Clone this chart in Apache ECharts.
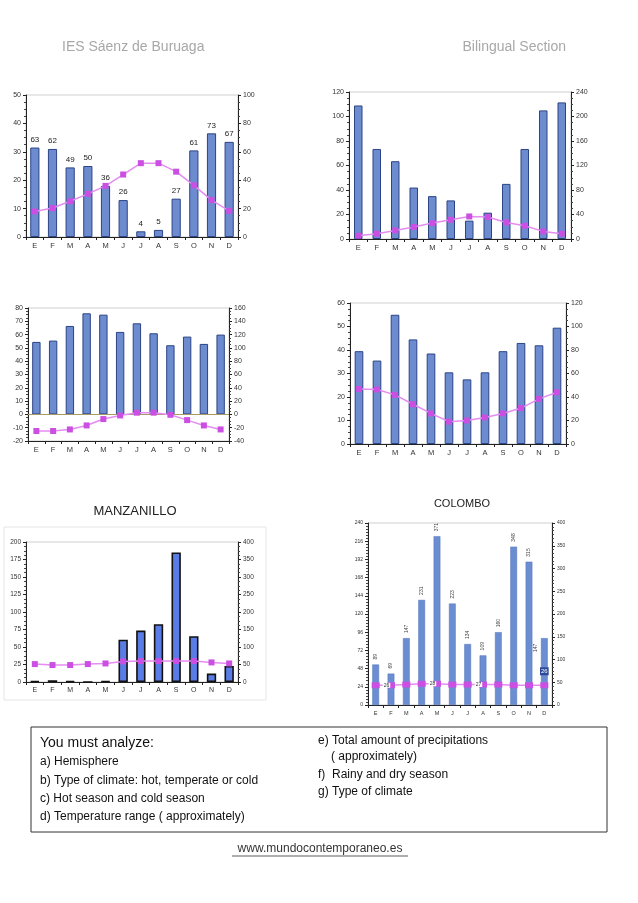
<!DOCTYPE html>
<html><head><meta charset="utf-8">
<script src="https://cdn.jsdelivr.net/npm/echarts@6/dist/echarts.min.js"></script>
<style>html,body{margin:0;padding:0;background:#fff}#c{width:638px;height:903px}</style>
</head><body><div id="c"></div>
<script>
const months = ['E','F','M','A','M','J','J','A','S','O','N','D'];
// temperatures (left axis) and precipitations (right axis)
const c1Temp = [9, 10.2, 12.6, 15.2, 18, 22, 26, 26, 23, 18.2, 13, 9.2];
const c1Prec = [63, 62, 49, 50, 36, 26, 4, 5, 27, 61, 73, 67];
const c2Temp = [2.7, 4.3, 7, 9.8, 13, 15.7, 18.4, 17.9, 13.5, 10.8, 6.2, 4.3];
const c2Prec = [218, 147, 127, 84, 70, 63, 30, 43, 90, 147, 210, 223];
const c3Temp = [-12.5, -12.5, -11.3, -8.3, -3.5, -0.8, 1.3, 1.3, -0.3, -4.3, -8.3, -11.3];
const c3Prec = [109, 111, 133, 152, 150, 124, 137, 122, 104, 117, 106, 120];
const c4Temp = [23.4, 23.2, 20.9, 16.9, 13, 9.5, 10, 11.3, 13, 15.3, 19.2, 22];
const c4Prec = [79, 71, 110, 89, 77, 61, 55, 61, 79, 86, 84, 99];
const c5Temp = [25.6, 24.2, 24.2, 25.6, 26.5, 29.4, 29.9, 29.9, 29.9, 29.9, 28, 26.5];
const c5Prec = [3, 5, 3, 0, 2, 121, 147, 165, 370, 131, 24, 46];
const c6Temp = [26, 26, 27, 28, 28, 27, 27, 27, 27, 26, 26, 26];
const c6Prec = [89, 69, 147, 231, 371, 223, 134, 109, 160, 348, 315, 147];
const c6TempLabelIdx = [0, 3, 6];

const FONT = 'Liberation Sans, Arial, sans-serif';
const charts = [
  {box:[26,95,212,142], temp:c1Temp, prec:c1Prec, l:[0,50,10], r:[0,100,20], bw:'52%', fill:'#6d8cd0', border:'#2c4485', bwid:1, barLabel:true, fs:7},
  {box:[349,92,222,147], temp:c2Temp, prec:c2Prec, l:[0,120,20], r:[0,240,40], bw:'46%', fill:'#6d8cd0', border:'#2c4485', bwid:1, fs:7},
  {box:[28,308,201,133], temp:c3Temp, prec:c3Prec, l:[-20,80,10], r:[-40,160,20], bw:'50%', fill:'#6d8cd0', border:'#2c4485', bwid:1, zero:true, fs:7},
  {box:[350,303,216,141], temp:c4Temp, prec:c4Prec, l:[0,60,10], r:[0,120,20], bw:'48%', fill:'#6d8cd0', border:'#2c4485', bwid:1, fs:7},
  {box:[26,542,212,140], temp:c5Temp, prec:c5Prec, l:[0,200,25], r:[0,400,50], bw:'53%', fill:'#5a7ce6', border:'#111', bwid:1.6, fs:6.5},
  {box:[368,523,184,182], temp:c6Temp, prec:c6Prec, l:[0,240,24], r:[0,400,50], bw:'44%', fill:'#6b8ed2', border:'#5573b8', bwid:0.5, colombo:true, fs:5}
];

const grid=[], xAxis=[], yAxis=[], series=[];
charts.forEach((c,i)=>{
  grid.push({left:c.box[0], top:c.box[1], width:c.box[2], height:c.box[3], show:true, borderColor:'#cfcfcf', borderWidth:1});
  xAxis.push({type:'category', gridIndex:i, data:months,
    axisLine:{onZero:false, lineStyle:{color:'#222', width:1}},
    axisTick:{show:true, length:3, lineStyle:{color:'#222'}},
    axisLabel:{fontSize:c.fs+0.5, color:'#333', margin:5, fontFamily:FONT}});
  const ax = (range,pos)=>({type:'value', gridIndex:i, position:pos, min:range[0], max:range[1], interval:range[2],
    axisLine:{show:true, lineStyle:{color:'#222', width:1}},
    axisTick:{show:true, length:3, lineStyle:{color:'#222'}},
    minorTick:{show:true, splitNumber: c.colombo?6:4, length:2, lineStyle:{color:'#444'}},
    splitLine:{show:false},
    axisLabel:{fontSize:c.fs, color:'#333', margin:5, fontFamily:FONT}});
  yAxis.push(ax(c.l,'left'));
  yAxis.push(ax(c.r,'right'));
  const bar = {type:'bar', xAxisIndex:i, yAxisIndex:2*i+1, data:c.prec, barWidth:c.bw,
    itemStyle:{color:c.fill, borderColor:c.border, borderWidth:c.bwid}, z:2};
  if(c.barLabel){ bar.label={show:true, position:'top', fontSize:8, color:'#222', distance:4, fontFamily:FONT}; }
  if(c.colombo){
    bar.label={show:true, position:'top', rotate:90, align:'left', verticalAlign:'middle', fontSize:5, color:'#444', distance:5, fontFamily:FONT};
    bar.data = c.prec.map((v,k)=> k===11 ? {value:v, label:{offset:[-19,-9]}} : v);
  }
  if(c.zero){ bar.markLine={silent:true, symbol:'none', label:{show:false}, data:[{yAxis:0}], lineStyle:{color:'#a8996a', type:'solid', width:1}}; }
  series.push(bar);
  const line = {type:'line', xAxisIndex:i, yAxisIndex:2*i, data:c.temp, symbol:'rect', symbolSize:c.colombo?[8,6]:6,
    lineStyle:{color:'#e48cf2', width:1.5}, itemStyle:{color:'#cb4fe2'}, z:5};
  if(c.colombo){
    line.data = c.temp.map((v,k)=>{
      if(c6TempLabelIdx.includes(k)) return {value:v, label:{show:true, position:'right', fontSize:5, color:'#333', distance:3, backgroundColor:'#fff', padding:[0,1]}};
      if(k===11) return {value:v, label:{show:true, position:'top', fontSize:6, color:'#fff', backgroundColor:'#2d4a9a', padding:[1,1], distance:7}};
      return v;
    });
  }
  series.push(line);
});

const t = (x,y,text,fs,color,align,extra)=>Object.assign({type:'text', x, y, style:{text, fontSize:fs, fill:color, fontFamily:FONT, align:align||'left', verticalAlign:'middle'}}, extra||{});
const graphic = [
  t(62,47,'IES Sáenz de Buruaga',14,'#a8a8a8'),
  t(566,47,'Bilingual Section',14,'#a8a8a8','right'),
  {type:'rect', shape:{x:4,y:527,width:262,height:173}, style:{fill:'none', stroke:'#e6e6e6', lineWidth:1}},
  t(135,511,'MANZANILLO',13,'#222','center'),
  t(462,504,'COLOMBO',11,'#222','center'),
  {type:'rect', shape:{x:31,y:727,width:576,height:105}, style:{fill:'none', stroke:'#333', lineWidth:1}},
  t(40,743,'You must analyze:',14,'#111'),
  t(40,762,'a) Hemisphere',12,'#111'),
  t(40,781,'b) Type of climate: hot, temperate or cold',12,'#111'),
  t(40,799,'c) Hot season and cold season',12,'#111'),
  t(40,817,'d) Temperature range ( approximately)',12,'#111'),
  t(318,741,'e) Total amount of precipitations',12,'#111'),
  t(331,757,'( approximately)',12,'#111'),
  t(318,775,'f)  Rainy and dry season',12,'#111'),
  t(318,792,'g) Type of climate',12,'#111'),
  t(320,849,'www.mundocontemporaneo.es',12,'#333','center'),
  {type:'line', shape:{x1:232,y1:856,x2:408,y2:856}, style:{stroke:'#333', lineWidth:0.8}}
];

const chart = echarts.init(document.getElementById('c'), null, {renderer:'canvas'});
chart.setOption({animation:false, backgroundColor:'#fff', grid, xAxis, yAxis, series, graphic});
</script></body></html>
